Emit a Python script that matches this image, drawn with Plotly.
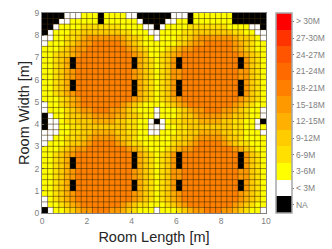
import plotly.graph_objects as go

# Coverage class of each 0.25 m cell, top row first. N = not available.
rows = [
"NNNN000111N111100NNN" "NNN000N1111111NNNNNN",
"NNN0011111N1111110NN" "NN0011N1111111NNNNNN",
"NN011112222222111100" "N011112222222111100N",
"N0111223333333221110" "01111223333333221100",
"00112234555555433211" "01112234555555433210",
"01112345566666543211" "11112345566666543211",
"11123455666666654321" "11234556666666543211",
"11233456666666665431" "12345666666666654321",
"11234N6666666666N432" "1235N6666666666N5321",
"11234N6666666666N432" "1235N6666666666N5321",
"11234566666666665432" "12355666666666655321",
"11234566666666665432" "12355666666666655321",
"11234N6666666666N432" "1235N6666666666N5321",
"11234N6666666666N432" "1235N6666666666N5321",
"1123456666666666N432" "1235N6666666666N5321",
"11123456666666665432" "12345666666666654321",
"01123456666666543211" "11234566666666543211",
"01112345566655432111" "01112345566655432110",
"N0112334455554433211" "01112334555544332110",
"N0012233344443322110" "N012233344443322110N",
"N0011223333333322110" "00112233333333221101",
"00011223344443322110" "01112233444433221110",
"00112233455554332111" "11122334555543321111",
"01112334566665432211" "11123345666654322111",
"11123455666666654321" "11234556666666543211",
"1123456666666666N432" "1235N6666666666N5321",
"11234N6666666666N432" "1235N6666666666N5321",
"11234N6666666666N432" "1235N6666666666N5321",
"11234566666666665432" "12355666666666655321",
"11234566666666665432" "12355666666666655321",
"11234N6666666666N432" "1235N6666666666N5321",
"11234N6666666666N432" "1235N6666666666N5321",
"11234566666666665432" "12345666666666654321",
"01234566666666665432" "12345666666666654321",
"01123456666666543221" "11234566666666543211",
"N0112345566655432111" "01112345566655432110",
]
class_labels = ["NA", "< 3M", "3-6M", "6-9M", "9-12M", "12-15M", "15-18M",
                "18-21M", "21-24M", "24-27M", "27-30M", "> 30M"]
class_colors = ["#000000", "#ffffff", "#ffff00", "#ffe000", "#ffcc00", "#ffb000",
                "#ff9900", "#ff8000", "#ff6a00", "#ff5500", "#ff3300", "#ff0000"]
x_ticks = [0, 2, 4, 6, 8, 10]
y_ticks = [0, 1, 2, 3, 4, 5, 6, 7, 8, 9]
CELL = 0.25

z = [[-1 if ch == "N" else int(ch) for ch in row] for row in reversed(rows)]
n = len(class_colors)
scale = []
for i, c in enumerate(class_colors):
    scale += [[i / n, c], [(i + 1) / n, c]]

fig = go.Figure(go.Heatmap(
    z=z, x0=CELL / 2, dx=CELL, y0=CELL / 2, dy=CELL,
    zmin=-1.5, zmax=10.5, colorscale=scale, hoverongaps=False,
    colorbar=dict(
        tickmode="array", tickvals=list(range(-1, 11)), ticktext=class_labels,
        thickness=16, thicknessmode="pixels", len=1, lenmode="fraction",
        x=1.0445, xanchor="left", xpad=0, y=0.5, yanchor="middle", ypad=0,
        outlinecolor="#a6a6a6", outlinewidth=1.5, borderwidth=0,
        ticks="outside", ticklen=2, tickcolor="#808080", tickwidth=1,
        tickfont=dict(family="Liberation Sans", size=8.5, color="#7f7f7f"),
    ),
))

grid = dict(type="line", layer="above", line=dict(color="rgba(60,40,0,0.68)", width=0.8))
shapes = []
for i in range(1, len(rows[0])):
    shapes.append(dict(grid, xref="x", yref="paper", x0=i * CELL, x1=i * CELL, y0=0, y1=1))
for j in range(1, len(rows)):
    shapes.append(dict(grid, xref="paper", yref="y", x0=0, x1=1, y0=j * CELL, y1=j * CELL))

axis = dict(showgrid=False, zeroline=False, showline=True, mirror=True, automargin=False,
            linecolor="#808080", linewidth=1, ticks="inside", ticklen=2,
            tickcolor="#808080", tickfont=dict(family="Liberation Sans", size=8.5, color="#7f7f7f"))
fig.update_xaxes(axis, range=[0, 10], tickvals=x_ticks,
                 title=dict(text="Room Length [m]", standoff=6,
                            font=dict(family="Liberation Sans", size=14.5, color="#262626")))
fig.update_yaxes(axis, range=[0, 9], tickvals=y_ticks,
                 title=dict(text="Room Width [m]", standoff=1,
                            font=dict(family="Liberation Sans", size=14.5, color="#262626")))
fig.update_layout(width=332, height=249,
                  margin=dict(l=42, r=66, t=13, b=36, pad=0, autoexpand=False),
                  paper_bgcolor="white", plot_bgcolor="white", shapes=shapes)
fig.write_html("out.html", config=dict(displayModeBar=False),
               post_script="document.body.style.margin='0';")
